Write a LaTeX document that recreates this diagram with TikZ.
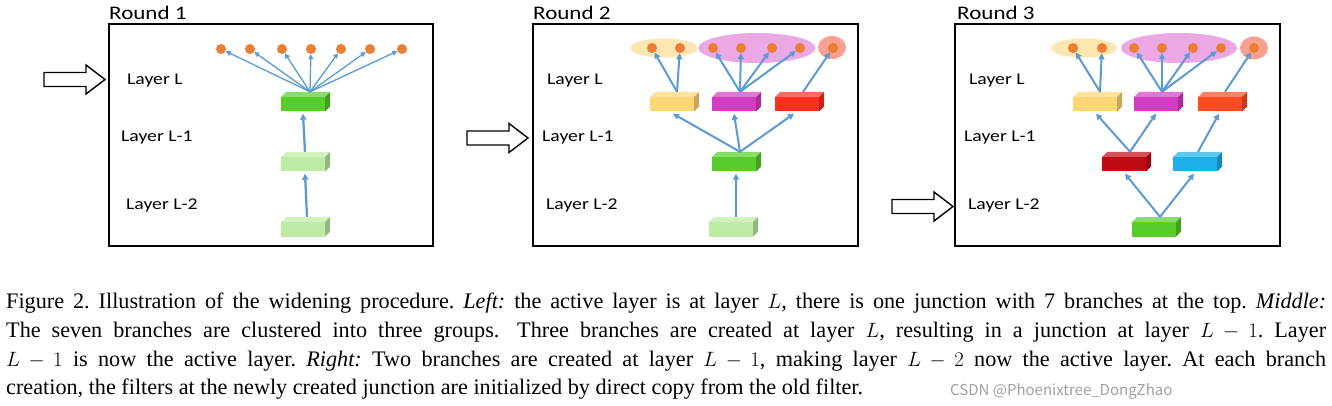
\documentclass[tikz,border=0pt]{standalone}
\usepackage{fontspec}
\setmainfont{Liberation Serif}
\newfontfamily\lblfont[FakeStretch=1.2]{Carlito}
\newfontfamily\wmfont{Noto Sans CJK SC}
\usetikzlibrary{arrows.meta,calc,shapes.geometric}
\definecolor{dotor}{HTML}{ED7D31}
\definecolor{arrb}{HTML}{5B9BD5}
\definecolor{cgreen}{HTML}{57CC2A}
\definecolor{clgreen}{HTML}{BDEBA3}
\definecolor{cyellow}{HTML}{FED674}
\definecolor{cmag}{HTML}{D33CC0}
\definecolor{cred}{HTML}{FF2E1F}
\definecolor{corange}{HTML}{FF4B22}
\definecolor{cdred}{HTML}{C00A14}
\definecolor{cblue}{HTML}{1EB0E8}
\definecolor{eyel}{HTML}{FDE6B0}
\definecolor{epink}{HTML}{EBA8E5}
\definecolor{ered}{HTML}{F9A090}
\definecolor{wmgray}{HTML}{A0A0A0}
\newcommand{\cubebox}[4]{%
  \node[cubefront, fill=#4] (#1) at (#2+22,#3+7.25) {};
  \fill[#4!70!white] (#2,#3) -- ++(5,-5) -- ++(44,0) -- ++(-5,5) -- cycle;
  \fill[#4!78!black] (#2+44,#3) -- ++(5,-5) -- ++(0,14.5) -- ++(-5,5) -- cycle;
}
\newcommand{\hollowarrow}[2]{%
  \draw[line width=1.4pt, fill=white] (#1,#2-7) -- (#1+42,#2-7) -- (#1+42,#2-14.5)
    -- (#1+61,#2) -- (#1+42,#2+14.5) -- (#1+42,#2+7) -- (#1,#2+7) -- cycle;
}
\tikzset{
  cubefront/.style={rectangle, minimum width=44pt, minimum height=14.5pt, inner sep=0pt, draw=none},
  dot/.style={circle, fill=dotor, minimum size=10pt, inner sep=0pt},
  grp/.style={ellipse, inner sep=0pt},
  arr/.style={-{Triangle[length=6pt,width=6pt]}, line width=2pt, draw=arrb},
  farr/.style={-{Triangle[length=5pt,width=5pt]}, line width=1.3pt, draw=arrb},
  lbl/.style={font=\lblfont\fontsize{16.4}{18}\selectfont, inner sep=0pt, anchor=base west},
  rnd/.style={font=\lblfont\fontsize{19.2}{21}\selectfont, inner sep=0pt, anchor=base west},
  frame/.style={line width=1.6pt},
}
\begin{document}
\begin{tikzpicture}[x=1pt,y=-1pt]
\useasboundingbox (0,0) rectangle (1332,406);
% ---------------- Panel 1 ----------------
\node[rnd] (r1) at (109,20) {Round 1};
\draw[frame] (109,24) rectangle (433,246);
\hollowarrow{44}{79.5}
\node[lbl] (p1l0) at (127,85) {Layer L};
\node[lbl] (p1l1) at (121,142) {Layer L-1};
\node[lbl] (p1l2) at (126,209) {Layer L-2};
\cubebox{p1a}{281}{97}{cgreen}
\cubebox{p1b}{281}{157}{clgreen}
\cubebox{p1c}{281}{222}{clgreen}
\foreach \i/\x in {1/221,2/250,3/282,4/311,5/341,6/370,7/402}{
  \node[dot] (p1d\i) at (\x,49) {};
}
\foreach \i in {1,...,7}{
  \draw[farr] ($(p1a.north)+(7,-5)$) -- (p1d\i);
}
\draw[arr, line width=2.3pt] ($(p1b.north)+(2,-5)$) -- ($(p1a.south)+(0,2)$);
\draw[arr, line width=2.3pt] ($(p1c.north)+(4,-5)$) -- ($(p1b.south)+(2,2)$);
% ---------------- Panel 2 ----------------
\node[rnd] (r2) at (533,20) {Round 2};
\draw[frame] (533,24) rectangle (858,246);
\hollowarrow{467}{138}
\node[lbl] (p2l0) at (547,85) {Layer L};
\node[lbl] (p2l1) at (542,142) {Layer L-1};
\node[lbl] (p2l2) at (546,209) {Layer L-2};
\node[grp, fill=eyel, minimum width=67pt, minimum height=19pt] (p2e1) at (664,48) {};
\node[grp, fill=epink, minimum width=117pt, minimum height=30pt] (p2e2) at (757,48) {};
\node[grp, fill=ered, minimum width=28pt, minimum height=23pt] (p2e3) at (832,47.5) {};
\foreach \i/\x in {1/652,2/680,3/713,4/741,5/772,6/800,7/833}{
  \node[dot] (p2d\i) at (\x,48) {};
}
\cubebox{p2y}{650}{97}{cyellow}
\cubebox{p2m}{712}{97}{cmag}
\cubebox{p2r}{775}{97}{cred}
\cubebox{p2g}{712}{157}{cgreen}
\cubebox{p2lg}{709}{222}{clgreen}
\foreach \i in {1,2}{\draw[arr] ($(p2y.north)+(5,-5)$) -- (p2d\i);}
\foreach \i in {3,4,5,6}{\draw[arr] ($(p2m.north)+(6,-5)$) -- (p2d\i);}
\draw[arr] ($(p2r.north)+(6,-5)$) -- (p2d7);
\draw[arr] ($(p2g.north)+(6,-5)$) -- ($(p2y.south)+(1,2)$);
\draw[arr] ($(p2g.north)+(6,-5)$) -- ($(p2m.south)+(0,2)$);
\draw[arr] ($(p2g.north)+(6,-5)$) -- ($(p2r.south)+(-3,2)$);
\draw[arr] ($(p2lg.north)+(5,-5)$) -- ($(p2g.south)+(2,2)$);
% ---------------- Panel 3 ----------------
\node[rnd] (r3) at (957,20) {Round 3};
\draw[frame] (955,24) rectangle (1280,246);
\hollowarrow{892}{206.5}
\node[lbl] (p3l0) at (969,85) {Layer L};
\node[lbl] (p3l1) at (964,142) {Layer L-1};
\node[lbl] (p3l2) at (968,209) {Layer L-2};
\node[grp, fill=eyel, minimum width=66pt, minimum height=19pt] (p3e1) at (1084,48) {};
\node[grp, fill=epink, minimum width=116pt, minimum height=30pt] (p3e2) at (1179,48) {};
\node[grp, fill=ered, minimum width=28pt, minimum height=23pt] (p3e3) at (1254,48) {};
\foreach \i/\x in {1/1073,2/1102,3/1134,4/1162,5/1193,6/1221,7/1254}{
  \node[dot] (p3d\i) at (\x,48) {};
}
\cubebox{p3y}{1073}{97}{cyellow}
\cubebox{p3m}{1134}{97}{cmag}
\cubebox{p3o}{1198}{97}{corange}
\cubebox{p3dr}{1102}{157}{cdred}
\cubebox{p3b}{1173}{157}{cblue}
\cubebox{p3g}{1132}{222}{cgreen}
\foreach \i in {1,2}{\draw[arr] ($(p3y.north)+(5,-5)$) -- (p3d\i);}
\foreach \i in {3,4,5,6}{\draw[arr] ($(p3m.north)+(6,-5)$) -- (p3d\i);}
\draw[arr] ($(p3o.north)+(5,-5)$) -- (p3d7);
\draw[arr] ($(p3dr.north)+(6,-5)$) -- ($(p3y.south)+(1,2)$);
\draw[arr] ($(p3dr.north)+(6,-5)$) -- ($(p3m.south)+(0,2)$);
\draw[arr] ($(p3b.north)+(3,-5)$) -- ($(p3o.south)+(-1,2)$);
\draw[arr] ($(p3g.north)+(6,-5)$) -- ($(p3dr.south)+(1,2)$);
\draw[arr] ($(p3g.north)+(6,-5)$) -- ($(p3b.south)+(-1,2)$);
% ---------------- Caption ----------------
\node[anchor=north west, inner sep=0pt, text width=1320pt, align=justify,
      font=\fontsize{22.2}{28.6}\selectfont\frenchspacing] (cap) at (6,293) {%
Figure 2. Illustration of the widening procedure. \emph{Left:} the active layer is at layer $L$, there is one junction with 7 branches at the top. \emph{Middle:}\linebreak
The seven branches are clustered into three groups.\hspace{0.3em} Three branches are created at layer $L$, resulting in a junction at layer $L-1$. Layer\linebreak
$L-1$ is now the active layer. \emph{Right:} Two branches are created at layer $L-1$, making layer $L-2$ now the active layer. At each branch\linebreak
creation, the filters at the newly created junction are initialized by direct copy from the old filter.};
\node[anchor=base west, inner sep=0pt, font=\wmfont\fontsize{15}{17}\selectfont, text=wmgray] (wm) at (950,395) {CSDN @Phoenixtree\_DongZhao};
\end{tikzpicture}
\end{document}
